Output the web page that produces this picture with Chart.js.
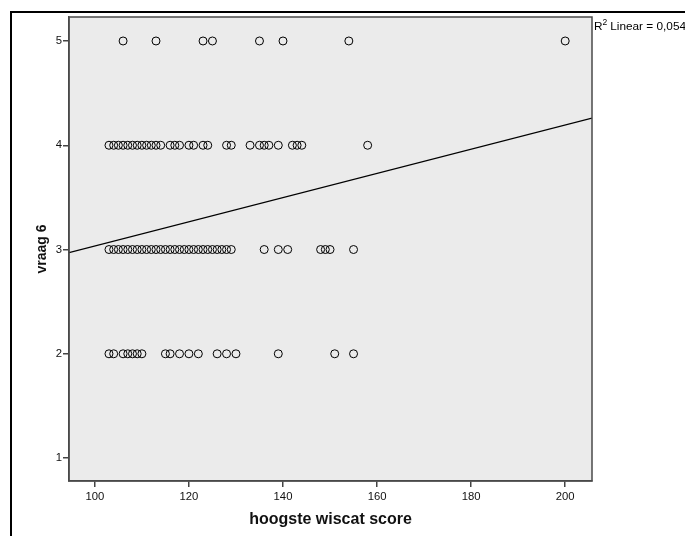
<!DOCTYPE html>
<html>
<head>
<meta charset="utf-8">
<script src="https://cdn.jsdelivr.net/npm/chart.js@4"></script>
<style>
  html, body { margin: 0; padding: 0; background: #fff; }
  #wrap { width: 685px; height: 536px; }
</style>
</head>
<body>
<div id="wrap"><canvas id="chart" width="685" height="536"></canvas></div>
<script>
// vraag 6 tegen hoogste wiscat score
const row5 = [106, 113, 123, 125, 135, 140, 154, 200];
const row4 = [103, 104, 105, 106, 107, 108, 109, 110, 111, 112, 113, 114,
  116, 117, 118, 120, 121, 123, 124, 128, 129, 133, 135, 136, 137, 139,
  142, 143, 144, 158];
const row3 = [103, 104, 105, 106, 107, 108, 109, 110, 111, 112, 113, 114,
  115, 116, 117, 118, 119, 120, 121, 122, 123, 124, 125, 126, 127, 128, 129,
  136, 139, 141, 148, 149, 150, 155];
const row2 = [103, 104, 106, 107, 108, 109, 110, 115, 116, 118, 120, 122,
  126, 128, 130, 139, 151, 155];

// regressielijn (eindpunten aan de rand van de plot)
const fitX = [94.5, 205.7];
const fitY = [2.97, 4.26];

const xTicks = [100, 120, 140, 160, 180, 200];
const yTicks = [1, 2, 3, 4, 5];
const r2Text = 'Linear = 0,054';

const points = [];
[[5, row5], [4, row4], [3, row3], [2, row2]].forEach(([y, xs]) => {
  xs.forEach(x => points.push({ x: x, y: y }));
});

const frame = {
  id: 'frame',
  beforeDraw(chart) {
    const { ctx, chartArea: a } = chart;
    ctx.save();
    ctx.fillStyle = '#fff';
    ctx.fillRect(0, 0, chart.width, chart.height);
    ctx.fillStyle = '#ebebeb';
    ctx.fillRect(a.left, a.top, a.right - a.left, a.bottom - a.top);
    ctx.restore();
  },
  afterDraw(chart) {
    const { ctx, chartArea: a } = chart;
    ctx.save();
    ctx.strokeStyle = '#4a4a4a';
    ctx.lineWidth = 1.5;
    ctx.strokeRect(a.left, a.top, a.right - a.left, a.bottom - a.top);
    // buitenkader
    ctx.strokeStyle = '#000';
    ctx.lineWidth = 2;
    ctx.beginPath();
    ctx.moveTo(11, chart.height);
    ctx.lineTo(11, 12);
    ctx.lineTo(chart.width, 12);
    ctx.stroke();
    // R2 label
    ctx.fillStyle = '#000';
    ctx.textBaseline = 'alphabetic';
    ctx.font = '11.8px "Liberation Sans", Arial, sans-serif';
    let x = a.right + 2;
    ctx.fillText('R', x, 30);
    x += ctx.measureText('R').width;
    ctx.font = '8.5px "Liberation Sans", Arial, sans-serif';
    ctx.fillText('2', x, 25);
    x += ctx.measureText('2').width + 3;
    ctx.font = '11.8px "Liberation Sans", Arial, sans-serif';
    ctx.fillText(r2Text, x, 30);
    ctx.restore();
  }
};

new Chart(document.getElementById('chart').getContext('2d'), {
  type: 'scatter',
  data: {
    datasets: [
      {
        data: points,
        pointStyle: 'circle',
        pointRadius: 4,
        pointBorderWidth: 1,
        pointBorderColor: '#000',
        pointBackgroundColor: 'rgba(0,0,0,0)',
        showLine: false
      },
      {
        type: 'line',
        data: fitX.map((x, i) => ({ x: x, y: fitY[i] })),
        borderColor: '#000',
        borderWidth: 1.2,
        pointRadius: 0,
        fill: false
      }
    ]
  },
  options: {
    responsive: false,
    animation: false,
    events: [],
    layout: { padding: { top: 17, right: 93, left: 0, bottom: 0 } },
    plugins: { legend: { display: false }, tooltip: { enabled: false } },
    scales: {
      x: {
        type: 'linear',
        min: 94.5,
        max: 205.7,
        afterBuildTicks: s => { s.ticks = xTicks.map(v => ({ value: v })); },
        afterFit: s => { s.height = 55; },
        grid: { drawOnChartArea: false, drawTicks: true, tickLength: 6, color: '#444', lineWidth: 1.5 },
        border: { color: '#4a4a4a', width: 1.5 },
        ticks: {
          padding: 3,
          color: '#111',
          font: { family: '"Liberation Sans", Arial, sans-serif', size: 11.3 }
        },
        title: {
          display: true,
          text: 'hoogste wiscat score',
          color: '#111',
          padding: { top: 0, bottom: 7 },
          font: { family: '"Liberation Sans", Arial, sans-serif', size: 16, weight: 'bold' }
        }
      },
      y: {
        min: 0.78,
        max: 5.23,
        afterBuildTicks: s => { s.ticks = yTicks.map(v => ({ value: v })); },
        afterFit: s => { s.width = 69; },
        grid: { drawOnChartArea: false, drawTicks: true, tickLength: 6, color: '#444', lineWidth: 1.5 },
        border: { color: '#4a4a4a', width: 1.5 },
        ticks: {
          padding: 1,
          color: '#111',
          font: { family: '"Liberation Sans", Arial, sans-serif', size: 11.3 }
        },
        title: {
          display: true,
          text: 'vraag 6',
          color: '#111',
          padding: { top: 34, bottom: 0 },
          font: { family: '"Liberation Sans", Arial, sans-serif', size: 14, weight: 'bold' }
        }
      }
    }
  },
  plugins: [frame]
});
</script>
</body>
</html>
